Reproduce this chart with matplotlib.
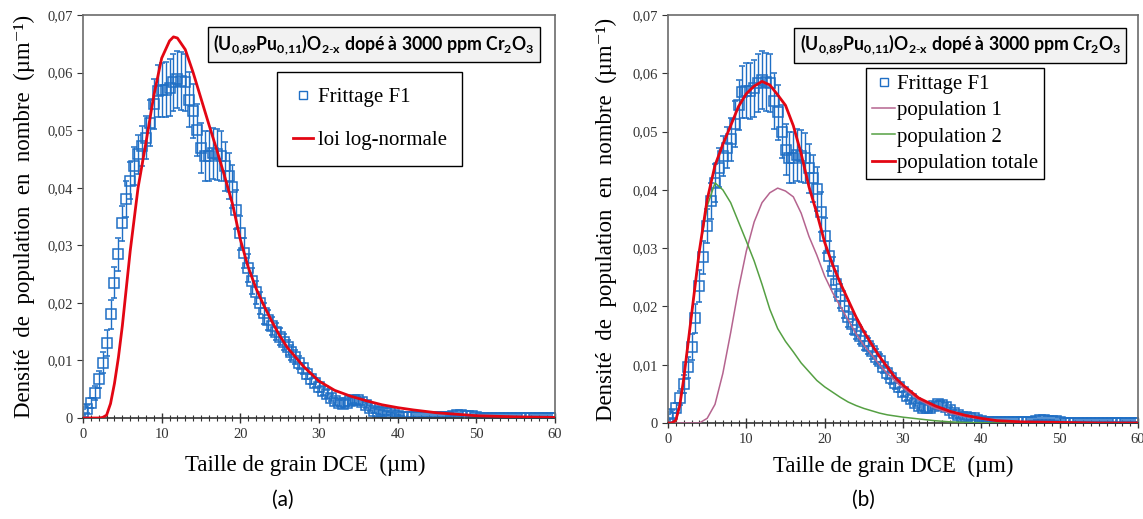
import numpy as np
import matplotlib.pyplot as plt
from matplotlib.lines import Line2D
from matplotlib.ticker import MultipleLocator, FuncFormatter

# points expérimentaux (Frittage F1), pas de 0,5 µm
x_data = np.arange(0, 60.5, 0.5)
y_data = [0.0010, 0.0015, 0.0026, 0.0043, 0.0067, 0.0096, 0.0130, 0.0180, 0.0235, 0.0284,
          0.0338, 0.0381, 0.0412, 0.0438, 0.0458, 0.0472, 0.0487, 0.0513, 0.0545, 0.0568,
          0.0570, 0.0570, 0.0574, 0.0583, 0.0588, 0.0585, 0.0583, 0.0553, 0.0533, 0.0500,
          0.0469, 0.0455, 0.0455, 0.0460, 0.0458, 0.0455, 0.0437, 0.0420, 0.0402, 0.0362,
          0.0321, 0.0286, 0.0260, 0.0238, 0.0218, 0.0200, 0.0182, 0.0170, 0.0160, 0.0150,
          0.0141, 0.0132, 0.0123, 0.0114, 0.0106, 0.0096, 0.0086, 0.0077, 0.0068, 0.0061,
          0.0054, 0.0047, 0.0041, 0.0035, 0.0029, 0.0026, 0.0025, 0.0026, 0.0030, 0.0032,
          0.0031, 0.0028, 0.0022, 0.0017, 0.0013, 0.0011, 0.0010, 0.0009, 0.0008, 0.0005,
          0.0003, 0.0002, 0.0001, 0.0001, 0.0001, 0.0001, 0.0001, 0.0001, 0.0001, 0.0001,
          0.0001, 0.0001, 0.0001, 0.0002, 0.0004, 0.0005, 0.0005, 0.0004, 0.0004, 0.0003,
          0.0001] + [0.0] * 20
y_err = [0.0005, 0.0007, 0.0009, 0.0012, 0.0015, 0.0018, 0.0022, 0.0025, 0.0027, 0.0028,
         0.0030, 0.0031, 0.0032, 0.0033, 0.0034, 0.0035, 0.0037, 0.0040, 0.0043, 0.0045,
         0.0047, 0.0048, 0.0049, 0.0050, 0.0050, 0.0050, 0.0050, 0.0048, 0.0047, 0.0045,
         0.0044, 0.0044, 0.0044, 0.0044, 0.0044, 0.0043, 0.0042, 0.0040, 0.0038, 0.0034,
         0.0030, 0.0026, 0.0024, 0.0022, 0.0020, 0.0019, 0.0018, 0.0017, 0.0016, 0.0015,
         0.0015, 0.0014, 0.0013, 0.0013, 0.0012, 0.0011, 0.0010, 0.0010, 0.0009, 0.0008,
         0.0008, 0.0007, 0.0007, 0.0006, 0.0006, 0.0006, 0.0006, 0.0006, 0.0006, 0.0006,
         0.0006, 0.0006, 0.0005, 0.0005, 0.0004, 0.0004, 0.0004, 0.0003, 0.0003, 0.0003,
         0.0002, 0.0002, 0.0001] + [0.0001] * 38

# (a) loi log-normale
x_ln = [0, 1, 2, 2.5, 3, 3.5, 4, 4.5, 5, 6, 7, 8, 9, 10, 11, 11.5, 12, 13, 14, 15, 16, 17,
        18, 19, 20, 21, 22, 23, 24, 25, 26, 27, 28, 29, 30, 32, 34, 36, 38, 40, 42, 45, 50, 55, 60]
y_ln = [0, 0, 0, 0.0001, 0.0005, 0.0025, 0.0060, 0.0105, 0.0160, 0.0290, 0.0400, 0.0478,
        0.0560, 0.0625, 0.0655, 0.0662, 0.0660, 0.0640, 0.0600, 0.0555, 0.0510, 0.0466,
        0.0420, 0.0372, 0.0310, 0.0262, 0.0225, 0.0195, 0.0168, 0.0143, 0.0122, 0.0106,
        0.0090, 0.0077, 0.0064, 0.0048, 0.0038, 0.0030, 0.0023, 0.0018, 0.0014, 0.0009,
        0.0004, 0.0002, 0.0001]

# (b) deux populations
x_fit = [0, 0.5, 1, 1.5, 2, 3, 4, 5, 6, 7, 8, 9, 10, 11, 12, 13, 14, 15, 16, 17, 18, 19, 20,
         21, 22, 23, 24, 25, 26, 27, 28, 29, 30, 32, 34, 36, 38, 40, 42, 45, 50, 55, 60]
pop1 = [0, 0, 0, 0, 0, 0, 0, 0.0008, 0.0032, 0.0085, 0.0155, 0.0230, 0.0295, 0.0345, 0.0378,
        0.0395, 0.0403, 0.0398, 0.0388, 0.0360, 0.0320, 0.0288, 0.0252, 0.0224, 0.0200,
        0.0177, 0.0153, 0.0133, 0.0117, 0.0100, 0.0085, 0.0072, 0.0060, 0.0040, 0.0026,
        0.0017, 0.0011, 0.0007, 0.0004, 0.0002, 0.0001, 0, 0]
pop2 = [0, 0, 0.0003, 0.0030, 0.0075, 0.0185, 0.0295, 0.0372, 0.0412, 0.0400, 0.0378,
        0.0345, 0.0312, 0.0278, 0.0238, 0.0195, 0.0162, 0.0140, 0.0122, 0.0103, 0.0088,
        0.0073, 0.0062, 0.0053, 0.0044, 0.0036, 0.0030, 0.0025, 0.0021, 0.0017, 0.0014,
        0.0012, 0.0010, 0.0007, 0.0004, 0.0002, 0.0001, 0.00005, 0, 0, 0, 0, 0]
pop_tot = [0, 0, 0.0005, 0.0030, 0.0075, 0.0185, 0.0295, 0.0383, 0.0442, 0.0478, 0.0510,
           0.0543, 0.0565, 0.0578, 0.0586, 0.0580, 0.0563, 0.0545, 0.0510, 0.0462, 0.0405,
           0.0360, 0.0310, 0.0272, 0.0240, 0.0211, 0.0182, 0.0157, 0.0135, 0.0114, 0.0096,
           0.0078, 0.0065, 0.0043, 0.0030, 0.0020, 0.0013, 0.0008, 0.0004, 0.0002, 0.0001, 0, 0]

blue = '#1f6fc5'
red = '#e30613'
pink = '#b5648f'
green = '#55a043'

plt.rcParams['font.family'] = ['Liberation Serif', 'DejaVu Serif']
plt.rcParams['mathtext.fontset'] = 'custom'
plt.rcParams['mathtext.rm'] = 'Lato'
plt.rcParams['mathtext.bf'] = 'Lato:bold'

fig = plt.figure(figsize=(11.43, 5.19), dpi=100)
axa = fig.add_axes([83/1143, 1 - 418/519, 472/1143, 403/519])
axb = fig.add_axes([668/1143, 1 - 423/519, 470/1143, 408/519])

titre = (r'(U$_{\mathbf{0{,}89}}$Pu$_{\mathbf{0{,}11}}$)O$_{\mathbf{2\text{-}x}}$'
         r' dopé à 3000 ppm Cr$_{\mathbf{2}}$O$_{\mathbf{3}}$')


def habillage(ax, tx):
    ax.set_xlim(0, 60)
    ax.set_ylim(0, 0.07)
    ax.xaxis.set_major_locator(MultipleLocator(10))
    ax.xaxis.set_minor_locator(MultipleLocator(1))
    ax.yaxis.set_major_locator(MultipleLocator(0.01))
    ax.yaxis.set_major_formatter(FuncFormatter(
        lambda v, p: '0' if abs(v) < 1e-9 else f'{v:.2f}'.replace('.', ',')))
    ax.tick_params(axis='x', which='major', direction='inout', length=7, width=1,
                   labelsize=10.5, pad=4, colors='#333333')
    ax.tick_params(axis='x', which='minor', direction='inout', length=4, width=0.8,
                   colors='#333333')
    ax.tick_params(axis='y', direction='out', length=4, labelsize=10.5, colors='#333333')
    for s in ax.spines.values():
        s.set_color('#6b6b6b')
        s.set_linewidth(1.2)
    ax.spines['bottom'].set_color('#333333')
    ax.set_xlabel('Taille de grain DCE  (µm)', fontsize=16.5)
    ax.set_ylabel('Densité  de  population  en  nombre  (µm⁻¹)', fontsize=16.5)
    ax.text(tx, 0.926, titre, transform=ax.transAxes, ha='center', va='center',
            family='Lato', fontweight='bold', fontsize=12.7,
            bbox=dict(boxstyle='square,pad=0.3', fc='#f2f2f2', ec='black', lw=1))


# (a)
habillage(axa, 0.617)
axa.errorbar(x_data, y_data, yerr=y_err, fmt='s', ms=6.5, mfc='none', mec=blue, mew=1.1,
             ecolor=blue, elinewidth=1, capsize=2.5, zorder=2)
axa.plot(x_ln, y_ln, color=red, lw=2, zorder=3)
axa.xaxis.set_label_coords(0.47, -0.092)
axa.yaxis.set_label_coords(-0.102, 0.5)
hA = [Line2D([], [], ls='none', marker='s', ms=5.5, mfc='none', mec=blue, mew=1),
      Line2D([], [], color=red, lw=2)]
legA = axa.legend(hA, ['Frittage F1', 'loi log-normale'], loc='upper left',
                  bbox_to_anchor=(0.411, 0.858), fancybox=False, edgecolor='black',
                  framealpha=1, fontsize=15, handlelength=1.0, handletextpad=0.2,
                  labelspacing=1.1, borderpad=0.75, borderaxespad=0)
legA.get_frame().set_linewidth(1)

# (b)
habillage(axb, 0.622)
axb.errorbar(x_data, y_data, yerr=y_err, fmt='s', ms=6.5, mfc='none', mec=blue, mew=1.1,
             ecolor=blue, elinewidth=1, capsize=2.5, zorder=2)
axb.plot(x_fit, pop1, color=pink, lw=1.1, zorder=3)
axb.plot(x_fit, pop2, color=green, lw=1.1, zorder=3)
axb.plot(x_fit, pop_tot, color=red, lw=2, zorder=4)
axb.xaxis.set_label_coords(0.479, -0.081)
axb.yaxis.set_label_coords(-0.108, 0.5)
hB = [Line2D([], [], ls='none', marker='s', ms=5.5, mfc='none', mec=blue, mew=1),
      Line2D([], [], color=pink, lw=1.1),
      Line2D([], [], color=green, lw=1.1),
      Line2D([], [], color=red, lw=2)]
legB = axb.legend(hB, ['Frittage F1', 'population 1', 'population 2', 'population totale'],
                  loc='upper left', bbox_to_anchor=(0.421, 0.870), fancybox=False,
                  edgecolor='black', framealpha=1, fontsize=15, handlelength=1.1,
                  handletextpad=0.1, labelspacing=0.33, borderpad=0.3, borderaxespad=0)
legB.get_frame().set_linewidth(1)

fig.text(283/1143, 1 - 500/519, '(a)', family='Lato', fontsize=15, ha='center', va='center')
fig.text(863/1143, 1 - 500/519, '(b)', family='Lato', fontsize=15, ha='center', va='center')

fig.savefig('out.png', dpi=100)
